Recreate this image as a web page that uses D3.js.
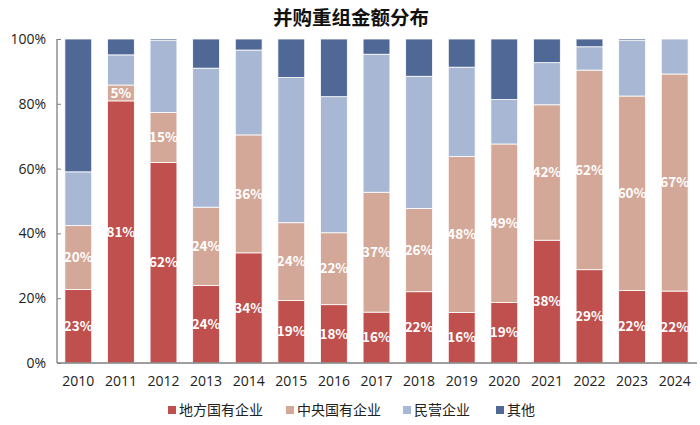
<!DOCTYPE html>
<html><head><meta charset="utf-8">
<script src="https://cdn.jsdelivr.net/npm/d3@7"></script>
<style>
body{margin:0;background:#fff;}
svg{display:block;font-family:"Noto Sans CJK SC","Noto Sans",sans-serif;}
</style></head>
<body><svg id="chart" width="700" height="425"></svg>
<script>
const years = ["2010","2011","2012","2013","2014","2015","2016","2017","2018","2019","2020","2021","2022","2023","2024"];
const seriesNames = ["地方国有企业","中央国有企业","民营企业","其他"];
const local   = [22.7, 80.9, 61.9, 23.9, 34.0, 19.3, 18.0, 15.7, 22.0, 15.6, 18.7, 37.9, 28.8, 22.4, 22.2];
const central = [19.7,  4.9, 15.4, 24.2, 36.4, 24.0, 22.2, 37.0, 25.7, 48.1, 48.9, 41.8, 61.6, 60.0, 67.0];
const privateE= [16.6,  9.3, 22.2, 42.9, 26.2, 44.8, 42.0, 42.6, 40.8, 27.6, 13.7, 13.0,  7.2, 17.1, 10.8];
const other   = [41.0,  4.9,  0.5,  9.0,  3.4, 11.9, 17.8,  4.7, 11.5,  8.7, 18.7,  7.3,  2.4,  0.5,  0.0];
const yTicks = [0, 20, 40, 60, 80, 100];
const colors = ["#C0504D", "#D4A898", "#A8B8D4", "#4F6895"];
const labeled = [true, true, false, false];

const svg = d3.select("#chart");
const x = d3.scaleBand().domain(years).range([57, 696]).paddingInner(0.37).paddingOuter(0.185);
const y = d3.scaleLinear().domain([0, 100]).range([363, 39]);

const rows = years.map((yr, i) => ({year: yr, s0: local[i], s1: central[i], s2: privateE[i], s3: other[i]}));
const stack = d3.stack().keys(["s0","s1","s2","s3"]);
const layers = stack(rows);

svg.append("text").attr("x", 351).attr("y", 25).attr("text-anchor", "middle")
  .attr("font-size", 19.5).attr("font-weight", "bold").attr("fill", "#111").text("并购重组金额分布");

layers.forEach((layer, li) => {
  const g = svg.append("g");
  g.selectAll("rect").data(layer).join("rect")
    .attr("x", d => x(d.data.year))
    .attr("width", x.bandwidth())
    .attr("y", d => y(Math.min(d[1], 100)))
    .attr("height", d => Math.max(0, y(d[0]) - y(Math.min(d[1], 100))))
    .attr("fill", colors[li])
    .attr("stroke", "#fff").attr("stroke-width", 0.8);
  if (labeled[li]) {
    g.selectAll("text").data(layer).join("text")
      .attr("x", d => x(d.data.year) + x.bandwidth() / 2)
      .attr("y", d => y((d[0] + d[1]) / 2))
      .attr("dy", "0.35em")
      .attr("text-anchor", "middle")
      .attr("font-size", 13.5).attr("font-weight", "bold").attr("fill", "#fff")
      .text(d => Math.round(d[1] - d[0]) + "%");
  }
});

// axes
const yAxis = d3.axisLeft(y).tickValues(yTicks).tickFormat(d => d + "%").tickSize(-4).tickPadding(11);
const gy = svg.append("g").attr("transform", "translate(57,0)").call(yAxis);
gy.select(".domain").attr("stroke", "#7f7f7f").attr("stroke-width", 1.3).attr("d", "M0,363V39");
gy.selectAll(".tick line").attr("stroke", "#7f7f7f");
gy.selectAll(".tick text").attr("font-size", 14).attr("fill", "#222").attr("font-family", "'Open Sans','Noto Sans',sans-serif");

const xAxis = d3.axisBottom(x).tickSize(0).tickPadding(13);
const gx = svg.append("g").attr("transform", "translate(0,363)").call(xAxis);
gx.select(".domain").attr("stroke", "#7f7f7f").attr("stroke-width", 1.3).attr("d", "M57,0H697");
gx.selectAll(".tick text").attr("font-size", 14).attr("fill", "#222").attr("font-family", "'Open Sans','Noto Sans',sans-serif");

// legend
const legendX = [168, 286, 403, 496];
const lg = svg.append("g");
seriesNames.forEach((n, i) => {
  lg.append("rect").attr("x", legendX[i]).attr("y", 406).attr("width", 8).attr("height", 8).attr("fill", colors[i]);
  lg.append("text").attr("x", legendX[i] + 11).attr("y", 410).attr("dy", "0.35em")
    .attr("font-size", 14).attr("fill", "#222").text(n);
});
</script></body></html>
